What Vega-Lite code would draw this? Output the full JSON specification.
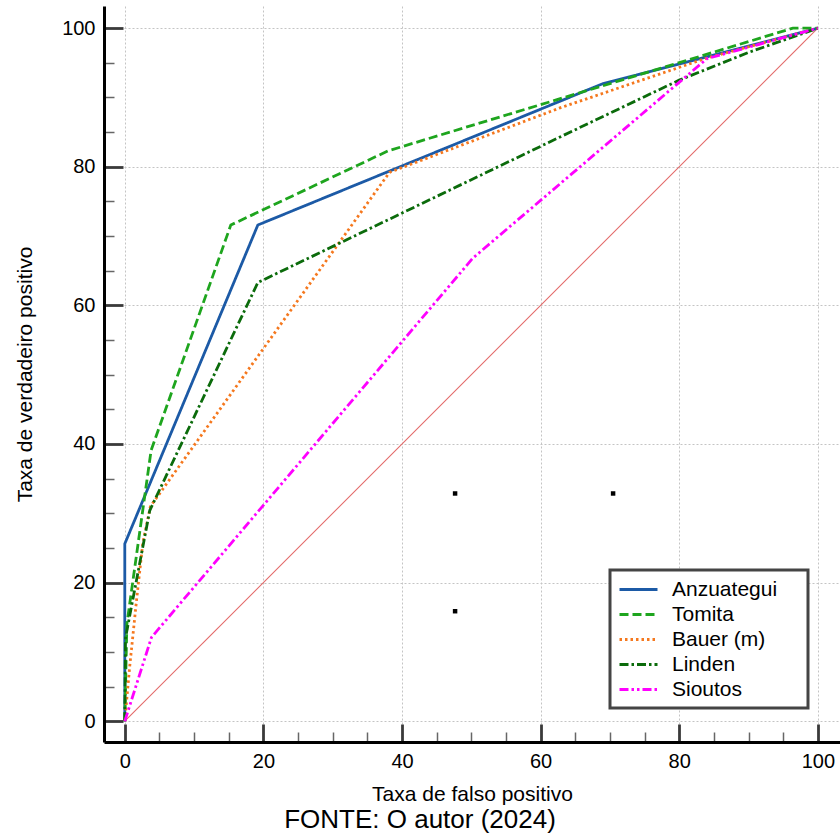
{
  "$schema": "https://vega.github.io/schema/vega-lite/v6.json",
  "width": 736,
  "height": 736,
  "autosize": "none",
  "padding": {"left": 104, "top": 6, "right": 0, "bottom": 97},
  "background": "white",
  "config": {"font": "Liberation Sans", "view": {"stroke": null}},
  "title": {"text": "FONTE: O autor (2024)", "orient": "bottom", "fontSize": 26, "fontWeight": "normal", "color": "black", "anchor": "middle", "dx": -52, "offset": 3},
  "encoding": {
    "x": {"field": "x", "type": "quantitative",
      "scale": {"domain": [-3, 103.2], "nice": false, "zero": false},
      "axis": {"title": "Taxa de falso positivo", "values": [0,5,10,15,20,25,30,35,40,45,50,55,60,65,70,75,80,85,90,95,100],
        "labelExpr": "datum.value % 20 === 0 ? datum.label : ''",
        "tickSize": {"condition": {"test": "datum.value % 20 === 0", "value": -18}, "value": -10},
        "tickColor": {"condition": {"test": "datum.value % 20 === 0", "value": "#3a3a3a"}, "value": "#666666"},
        "tickWidth": {"condition": {"test": "datum.value % 20 === 0", "value": 2.8}, "value": 1.5},
        "gridOpacity": {"condition": {"test": "datum.value % 20 === 0", "value": 1}, "value": 0},
        "gridColor": "#c4c4c4", "gridDash": [2, 2], "gridWidth": 1,
        "domainColor": "black", "domainWidth": 3,
        "labelFontSize": 20, "labelColor": "black", "labelPadding": 27, "labelFlush": false,
        "titleFontSize": 21, "titleFontWeight": "normal", "titleColor": "black", "titlePadding": 12}},
    "y": {"field": "y", "type": "quantitative",
      "scale": {"domain": [-3, 103.2], "nice": false, "zero": false},
      "axis": {"title": "Taxa de verdadeiro positivo", "values": [0,5,10,15,20,25,30,35,40,45,50,55,60,65,70,75,80,85,90,95,100],
        "labelExpr": "datum.value % 20 === 0 ? datum.label : ''",
        "tickSize": {"condition": {"test": "datum.value % 20 === 0", "value": -19}, "value": -10},
        "tickColor": {"condition": {"test": "datum.value % 20 === 0", "value": "#3a3a3a"}, "value": "#666666"},
        "tickWidth": {"condition": {"test": "datum.value % 20 === 0", "value": 2.8}, "value": 1.5},
        "gridOpacity": {"condition": {"test": "datum.value % 20 === 0", "value": 1}, "value": 0},
        "gridColor": "#c4c4c4", "gridDash": [2, 2], "gridWidth": 1,
        "domainColor": "black", "domainWidth": 3,
        "labelFontSize": 20, "labelColor": "black", "labelPadding": 28, "labelFlush": false,
        "titleFontSize": 21, "titleFontWeight": "normal", "titleColor": "black", "titlePadding": 26}}
  },
  "layer": [
    {
      "data": {"values": [{"x": 0, "y": 0}, {"x": 100, "y": 100}]},
      "mark": {"type": "line", "color": "#e36a6a", "strokeWidth": 1.1}
    },
    {
      "data": {"values": [
        {"s": "Anzuategui", "k": 0, "x": 0, "y": 0},
        {"s": "Anzuategui", "k": 1, "x": 0, "y": 25.6},
        {"s": "Anzuategui", "k": 2, "x": 19.2, "y": 71.6},
        {"s": "Anzuategui", "k": 3, "x": 69, "y": 92},
        {"s": "Anzuategui", "k": 4, "x": 100, "y": 100},
        {"s": "Tomita", "k": 0, "x": 0, "y": 0},
        {"s": "Tomita", "k": 1, "x": 0.3, "y": 14},
        {"s": "Tomita", "k": 2, "x": 3.8, "y": 39.1},
        {"s": "Tomita", "k": 3, "x": 15.3, "y": 71.6},
        {"s": "Tomita", "k": 4, "x": 38, "y": 82.3},
        {"s": "Tomita", "k": 5, "x": 96.4, "y": 100},
        {"s": "Tomita", "k": 6, "x": 100, "y": 100},
        {"s": "Bauer (m)", "k": 0, "x": 0, "y": 0},
        {"s": "Bauer (m)", "k": 1, "x": 0.7, "y": 7.8},
        {"s": "Bauer (m)", "k": 2, "x": 1.7, "y": 17.5},
        {"s": "Bauer (m)", "k": 3, "x": 2.6, "y": 25.7},
        {"s": "Bauer (m)", "k": 4, "x": 3.7, "y": 31},
        {"s": "Bauer (m)", "k": 5, "x": 38.2, "y": 79.2},
        {"s": "Bauer (m)", "k": 6, "x": 62.8, "y": 88.5},
        {"s": "Bauer (m)", "k": 7, "x": 84, "y": 95.7},
        {"s": "Bauer (m)", "k": 8, "x": 100, "y": 100},
        {"s": "Linden", "k": 0, "x": 0, "y": 0},
        {"s": "Linden", "k": 1, "x": 0.1, "y": 12},
        {"s": "Linden", "k": 2, "x": 3.6, "y": 30.4},
        {"s": "Linden", "k": 3, "x": 19.2, "y": 63.3},
        {"s": "Linden", "k": 4, "x": 62.8, "y": 84.3},
        {"s": "Linden", "k": 5, "x": 80, "y": 92.5},
        {"s": "Linden", "k": 6, "x": 90, "y": 96.5},
        {"s": "Linden", "k": 7, "x": 100, "y": 100},
        {"s": "Sioutos", "k": 0, "x": 0, "y": 0},
        {"s": "Sioutos", "k": 1, "x": 3.85, "y": 12.1},
        {"s": "Sioutos", "k": 2, "x": 50.2, "y": 66.8},
        {"s": "Sioutos", "k": 3, "x": 84, "y": 95.6},
        {"s": "Sioutos", "k": 4, "x": 100, "y": 100}
      ]},
      "mark": {"type": "line", "strokeWidth": 2.8},
      "encoding": {
        "order": {"field": "k", "type": "quantitative"},
        "color": {"field": "s", "type": "nominal",
          "scale": {"domain": ["Anzuategui", "Tomita", "Bauer (m)", "Linden", "Sioutos"],
                    "range": ["#1c5aa6", "#1ea51e", "#f5781e", "#0b6b0b", "#ff00ff"]},
          "legend": {"orient": "none", "legendX": 506, "legendY": 564, "title": null,
            "symbolType": "M-1,0H2.8M16.4,0", "symbolSize": 400, "symbolStrokeWidth": 3,
            "labelFontSize": 21, "labelColor": "black", "labelOffset": 31,
            "rowPadding": 3, "padding": 8,
            "strokeColor": "#444444", "fillColor": "white",
            "encode": {"legend": {"update": {"strokeWidth": {"value": 3}}}}}},
        "strokeDash": {"field": "s", "type": "nominal",
          "scale": {"domain": ["Anzuategui", "Tomita", "Bauer (m)", "Linden", "Sioutos"],
                    "range": [[1, 0], [9, 4], [2.5, 3], [9, 3, 2.5, 3], [9, 3, 2.5, 3, 2.5, 3]]},
          "legend": null}
      }
    },
    {
      "data": {"values": [{"x": 47.66, "y": 32.86}, {"x": 70.46, "y": 32.86}, {"x": 47.66, "y": 15.87}, {"x": 70.46, "y": 15.87}]},
      "mark": {"type": "square", "size": 20, "color": "black", "filled": true, "opacity": 1}
    }
  ]
}
